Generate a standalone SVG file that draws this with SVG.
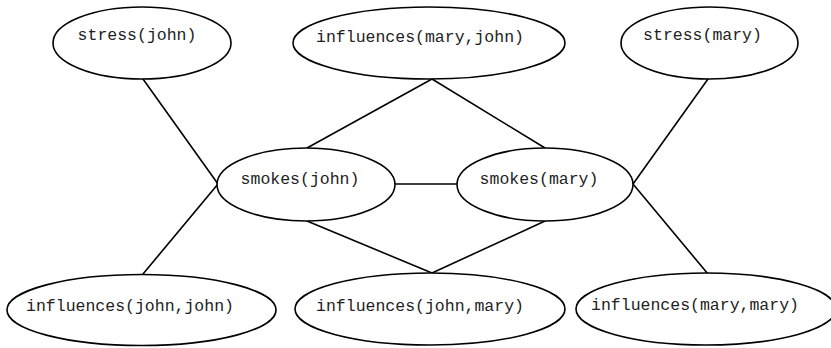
<svg xmlns="http://www.w3.org/2000/svg" width="831" height="348" viewBox="0 0 831 348">
<style>
.n ellipse{fill:#fff;stroke:#000;stroke-width:1.6}
.n text{font-family:"Liberation Mono","DejaVu Sans Mono",monospace;font-size:16.5px;fill:#222;text-anchor:middle}
#edges line{stroke:#000;stroke-width:1.6;stroke-linecap:round}
</style>
<rect width="831" height="348" fill="#fff"/>
<g id="edges">
<line x1="143" y1="79" x2="218" y2="184"/>
<line x1="143" y1="274" x2="218" y2="184"/>
<line x1="432" y1="79" x2="307" y2="148"/>
<line x1="432" y1="79" x2="545" y2="148"/>
<line x1="395" y1="184" x2="457" y2="184"/>
<line x1="307" y1="221" x2="432" y2="273"/>
<line x1="545" y1="221" x2="432" y2="273"/>
<line x1="708" y1="79" x2="633" y2="184"/>
<line x1="633" y1="184" x2="708" y2="274"/>
</g>
<g id="stress_john" class="n"><ellipse cx="142" cy="43" rx="89" ry="36"/><text x="137" y="40">stress(john)</text></g>
<g id="influences_mary_john" class="n"><ellipse cx="429" cy="43" rx="136" ry="36"/><text x="420" y="42">influences(mary,john)</text></g>
<g id="stress_mary" class="n"><ellipse cx="709.5" cy="43" rx="88.5" ry="36"/><text x="702.5" y="40">stress(mary)</text></g>
<g id="smokes_john" class="n"><ellipse cx="306" cy="184.5" rx="89" ry="36.5"/><text x="300" y="184">smokes(john)</text></g>
<g id="smokes_mary" class="n"><ellipse cx="545" cy="184.5" rx="88" ry="36.5"/><text x="539" y="184">smokes(mary)</text></g>
<g id="influences_john_john" class="n"><ellipse cx="141.5" cy="310" rx="134.5" ry="35.5"/><text x="130" y="310.5">influences(john,john)</text></g>
<g id="influences_john_mary" class="n"><ellipse cx="430" cy="309" rx="135" ry="36"/><text x="420" y="310.5">influences(john,mary)</text></g>
<g id="influences_mary_mary" class="n"><ellipse cx="706" cy="309" rx="130" ry="36"/><text x="695" y="309.5">influences(mary,mary)</text></g>
</svg>
